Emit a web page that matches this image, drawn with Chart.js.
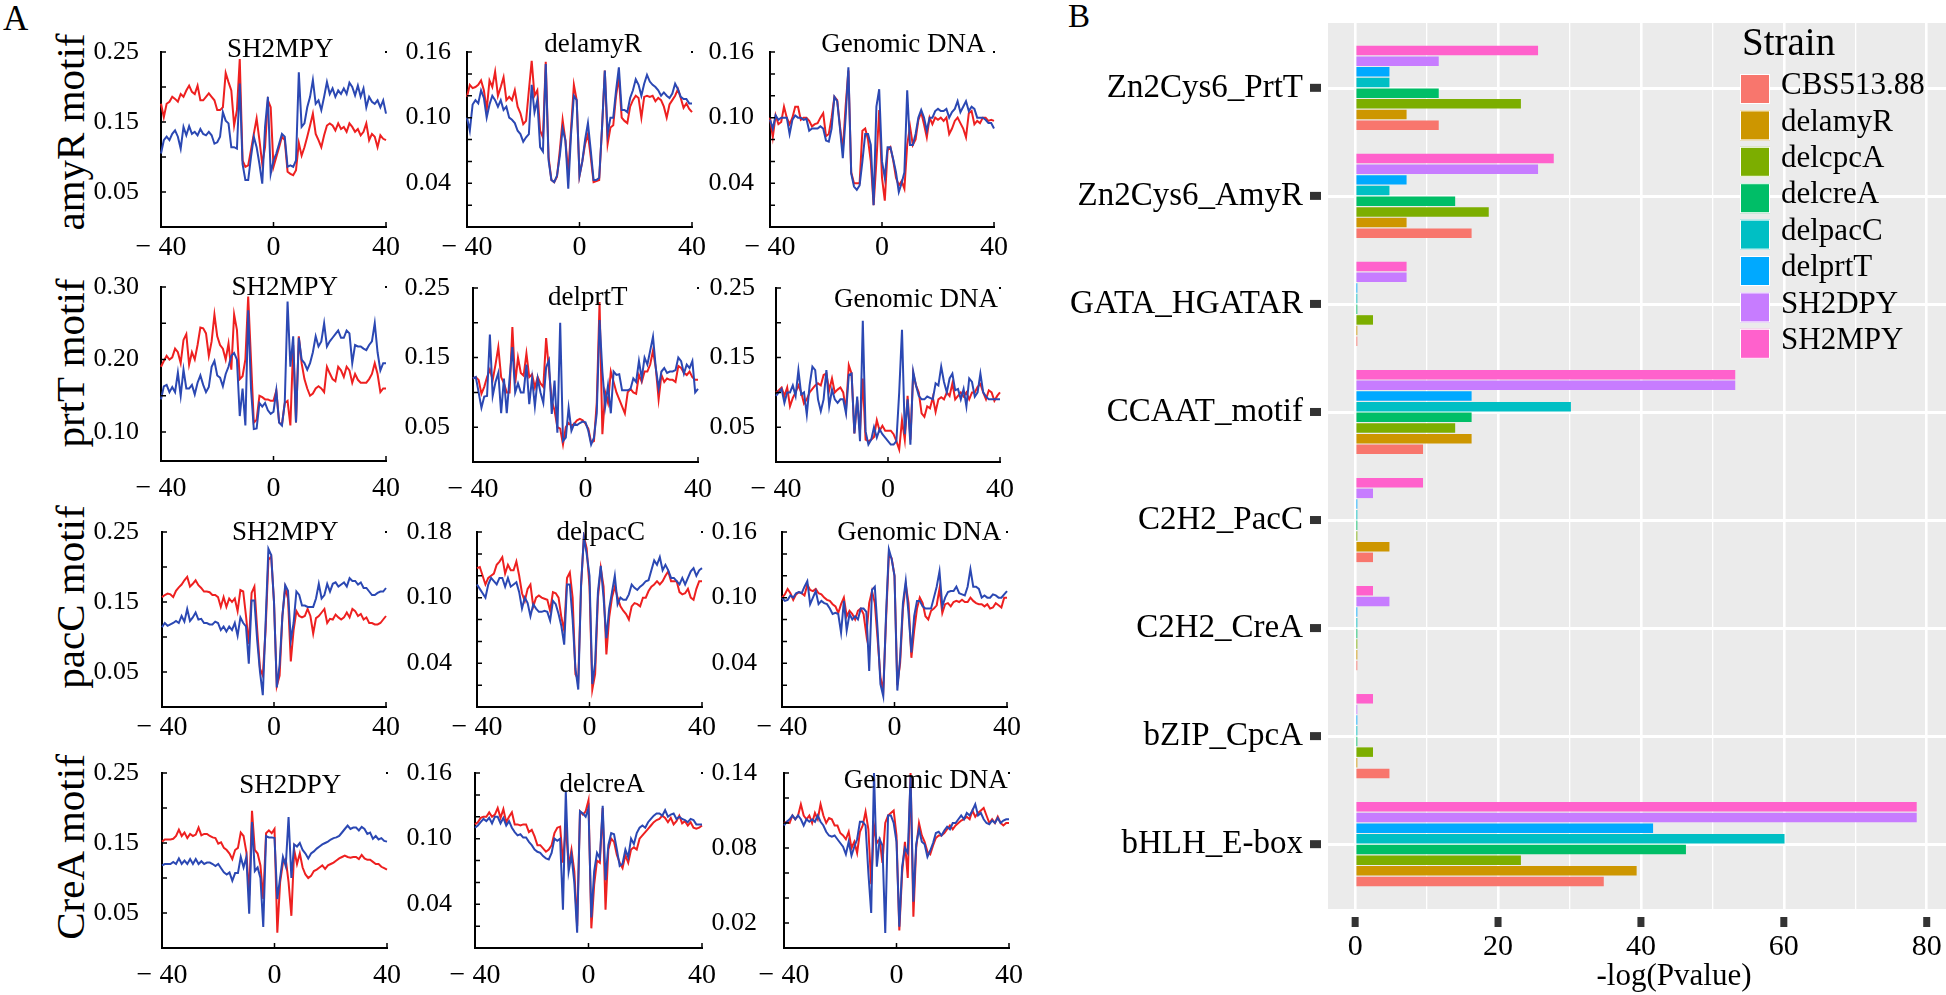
<!DOCTYPE html>
<html>
<head>
<meta charset="utf-8">
<script src="https://cdn.jsdelivr.net/npm/chart.js@4.4.0/dist/chart.umd.min.js"></script>
<style>
body { margin: 0; background: #fff; }
#page { position: relative; width: 1946px; height: 995px; overflow: hidden; font-family: 'Liberation Serif', 'Times New Roman', serif; color: #000; }
#page canvas { position: absolute; }
.lbl { position: absolute; line-height: 1; white-space: nowrap; }
.rowlab { font-size: 41px; transform: translate(-50%, -50%) rotate(-90deg); }
</style>
</head>
<body>
<div id="page">
  <div class="lbl" style="left:3px;top:1px;font-size:35px">A</div>
  <div class="lbl" style="left:1068px;top:0px;font-size:33px">B</div>
</div>
<script>
const SERIF = "'Liberation Serif', 'Times New Roman', serif";
const RED = '#ee2020';
const BLUE = '#2b48b3';

// ---------- panel A data ----------
const positions = [-40,-39,-38,-37,-36,-35,-34,-33,-32,-31,-30,-29,-28,-27,-26,-25,-24,-23,-22,-21,-20,-19,-18,-17,-16,-15,-14,-13,-12,-11,-10,-9,-8,-7,-6,-5,-4,-3,-2,-1,0,1,2,3,4,5,6,7,8,9,10,11,12,13,14,15,16,17,18,19,20,21,22,23,24,25,26,27,28,29,30,31,32,33,34,35,36,37,38,39,40];
const xTickAt = [-40, 0, 40];
const xTickText = ['\u2212 40', '0', '40'];

const rowLabels = ['amyR motif', 'prtT motif', 'pacC motif', 'CreA motif'];
const panelTitles = [
  ['SH2MPY', 'delamyR', 'Genomic DNA'],
  ['SH2MPY', 'delprtT', 'Genomic DNA'],
  ['SH2MPY', 'delpacC', 'Genomic DNA'],
  ['SH2DPY', 'delcreA', 'Genomic DNA']
];
const yRanges = [
  [[0, 0.25], [0, 0.16], [0, 0.16]],
  [[0.06, 0.30], [0, 0.25], [0, 0.25]],
  [[0, 0.25], [0, 0.16], [0, 0.16]],
  [[0, 0.25], [0, 0.16], [0, 0.14]]
];
const marks25 = [0.05, 0.10, 0.15, 0.20, 0.25];
const marks16 = [0.02, 0.04, 0.06, 0.08, 0.10, 0.12, 0.14, 0.16];
const marks30 = [0.10, 0.15, 0.20, 0.25, 0.30];
const marks14 = [0.02, 0.04, 0.06, 0.08, 0.10, 0.12, 0.14];
const yMarks = [
  [marks25, marks16, marks16],
  [marks30, marks25, marks25],
  [marks25, marks16, marks16],
  [marks25, marks16, marks14]
];
const yLabelAt = [
  [[0.05, 0.15, 0.25], [0.04, 0.10, 0.16], [0.04, 0.10, 0.16]],
  [[0.10, 0.20, 0.30], [0.05, 0.15, 0.25], [0.05, 0.15, 0.25]],
  [[0.05, 0.15, 0.25], [0.04, 0.10, 0.16], [0.04, 0.10, 0.16]],
  [[0.05, 0.15, 0.25], [0.04, 0.10, 0.16], [0.02, 0.08, 0.14]]
];
const yLabelText = [
  [['0.05', '0.15', '0.25'], ['0.04', '0.10', '0.16'], ['0.04', '0.10', '0.16']],
  [['0.10', '0.20', '0.30'], ['0.05', '0.15', '0.25'], ['0.05', '0.15', '0.25']],
  [['0.05', '0.15', '0.25'], ['0.04', '0.10', '0.18'], ['0.04', '0.10', '0.16']],
  [['0.05', '0.15', '0.25'], ['0.04', '0.10', '0.16'], ['0.02', '0.08', '0.14']]
];

const amyR_SH2MPY_red = [0.176,0.157,0.176,0.179,0.186,0.183,0.179,0.19,0.186,0.195,
  0.202,0.193,0.19,0.202,0.181,0.181,0.186,0.191,0.186,0.181,
  0.167,0.167,0.171,0.22,0.207,0.195,0.145,0.167,0.24,0.095,
  0.086,0.088,0.11,0.133,0.155,0.124,0.09,0.114,0.181,0.171,
  0.086,0.1,0.114,0.129,0.124,0.079,0.076,0.074,0.081,0.12,
  0.102,0.114,0.129,0.145,0.162,0.133,0.124,0.114,0.131,0.145,
  0.148,0.145,0.138,0.148,0.14,0.143,0.136,0.148,0.143,0.136,
  0.14,0.131,0.136,0.148,0.124,0.133,0.129,0.114,0.131,0.126,0.124];
const amyR_SH2MPY_blue = [0.105,0.124,0.129,0.124,0.133,0.138,0.129,0.112,0.143,0.131,
  0.144,0.133,0.136,0.131,0.14,0.133,0.131,0.136,0.131,0.119,
  0.121,0.129,0.164,0.152,0.148,0.114,0.114,0.112,0.205,0.09,
  0.067,0.067,0.1,0.129,0.114,0.09,0.062,0.143,0.186,0.076,
  0.095,0.105,0.119,0.133,0.129,0.086,0.088,0.086,0.095,0.221,
  0.143,0.148,0.171,0.186,0.21,0.176,0.181,0.167,0.186,0.207,
  0.19,0.198,0.186,0.195,0.19,0.198,0.19,0.206,0.2,0.188,
  0.202,0.186,0.198,0.171,0.186,0.179,0.176,0.181,0.171,0.181,0.162];
const amyR_delamyR_red = [0.119,0.13,0.127,0.128,0.13,0.134,0.125,0.107,0.134,0.128,
  0.142,0.12,0.128,0.137,0.116,0.119,0.116,0.125,0.11,0.104,
  0.094,0.097,0.125,0.152,0.12,0.125,0.088,0.082,0.151,0.064,
  0.043,0.041,0.046,0.07,0.098,0.079,0.049,0.09,0.13,0.116,
  0.047,0.06,0.076,0.085,0.064,0.041,0.042,0.043,0.09,0.143,
  0.076,0.091,0.093,0.12,0.137,0.1,0.097,0.095,0.11,0.116,
  0.12,0.118,0.1,0.119,0.12,0.119,0.12,0.115,0.118,0.116,
  0.11,0.1,0.112,0.116,0.12,0.126,0.118,0.109,0.113,0.108,0.105];
const amyR_delamyR_blue = [0.1,0.088,0.112,0.116,0.113,0.125,0.118,0.1,0.112,0.12,
  0.116,0.11,0.116,0.107,0.11,0.1,0.098,0.095,0.088,0.085,
  0.078,0.082,0.085,0.13,0.105,0.116,0.073,0.069,0.149,0.061,
  0.043,0.041,0.047,0.065,0.09,0.079,0.035,0.085,0.12,0.116,
  0.047,0.06,0.08,0.095,0.07,0.043,0.043,0.045,0.09,0.143,
  0.085,0.1,0.1,0.125,0.146,0.107,0.107,0.105,0.118,0.125,
  0.135,0.13,0.12,0.131,0.139,0.133,0.13,0.128,0.125,0.12,
  0.123,0.12,0.118,0.122,0.131,0.126,0.119,0.117,0.117,0.113,0.113];
const amyR_genomic_red = [0.1,0.082,0.102,0.094,0.096,0.11,0.1,0.094,0.1,0.11,
  0.11,0.098,0.1,0.1,0.097,0.092,0.094,0.095,0.1,0.104,
  0.083,0.085,0.1,0.119,0.116,0.092,0.07,0.11,0.143,0.05,
  0.04,0.04,0.04,0.088,0.09,0.08,0.06,0.02,0.06,0.107,
  0.045,0.024,0.07,0.073,0.061,0.045,0.038,0.042,0.035,0.075,
  0.092,0.075,0.08,0.098,0.105,0.094,0.082,0.1,0.094,0.1,
  0.098,0.1,0.097,0.1,0.085,0.09,0.097,0.1,0.095,0.09,
  0.082,0.104,0.106,0.094,0.097,0.095,0.1,0.1,0.097,0.098,0.097];
const amyR_genomic_blue = [0.098,0.09,0.102,0.098,0.1,0.1,0.1,0.085,0.098,0.102,
  0.1,0.1,0.098,0.099,0.088,0.09,0.09,0.09,0.092,0.09,
  0.079,0.078,0.09,0.119,0.115,0.09,0.063,0.1,0.146,0.049,
  0.037,0.034,0.038,0.06,0.085,0.085,0.075,0.02,0.11,0.126,
  0.06,0.045,0.073,0.073,0.062,0.05,0.032,0.04,0.05,0.125,
  0.075,0.075,0.085,0.1,0.107,0.1,0.088,0.1,0.1,0.106,
  0.108,0.106,0.106,0.108,0.1,0.105,0.108,0.115,0.105,0.11,
  0.115,0.106,0.11,0.108,0.1,0.1,0.1,0.098,0.095,0.095,0.09];

const prtT_SH2MPY_red = [0.19,0.198,0.205,0.2,0.203,0.215,0.21,0.195,0.227,0.235,
  0.193,0.21,0.2,0.22,0.244,0.243,0.236,0.205,0.225,0.262,
  0.232,0.22,0.215,0.2,0.222,0.186,0.262,0.241,0.173,0.177,
  0.2,0.287,0.2,0.113,0.117,0.15,0.148,0.145,0.145,0.143,
  0.143,0.157,0.113,0.11,0.14,0.143,0.109,0.22,0.113,0.232,
  0.195,0.173,0.16,0.15,0.153,0.16,0.163,0.16,0.155,0.19,
  0.181,0.173,0.17,0.19,0.185,0.176,0.19,0.185,0.168,0.18,
  0.172,0.168,0.168,0.168,0.173,0.18,0.195,0.18,0.155,0.16,0.16];
const prtT_SH2MPY_blue = [0.145,0.163,0.165,0.155,0.162,0.155,0.182,0.15,0.186,0.16,
  0.16,0.165,0.152,0.168,0.178,0.165,0.155,0.162,0.19,0.198,
  0.178,0.175,0.163,0.18,0.19,0.205,0.209,0.2,0.122,0.16,
  0.109,0.268,0.16,0.104,0.105,0.14,0.135,0.14,0.13,0.125,
  0.128,0.157,0.113,0.109,0.14,0.28,0.19,0.232,0.113,0.23,
  0.2,0.195,0.186,0.195,0.21,0.232,0.218,0.225,0.25,0.218,
  0.225,0.23,0.235,0.24,0.23,0.23,0.24,0.236,0.195,0.22,
  0.218,0.218,0.215,0.213,0.22,0.225,0.25,0.21,0.185,0.195,0.195];
const prtT_delprtT_red = [0.12,0.122,0.118,0.098,0.108,0.122,0.133,0.118,0.14,0.165,
  0.122,0.113,0.1,0.1,0.194,0.113,0.15,0.128,0.124,0.156,
  0.122,0.126,0.107,0.122,0.113,0.108,0.178,0.132,0.088,0.074,
  0.05,0.048,0.025,0.05,0.056,0.052,0.055,0.06,0.062,0.06,
  0.055,0.048,0.028,0.03,0.085,0.23,0.04,0.1,0.085,0.13,
  0.115,0.1,0.09,0.08,0.07,0.1,0.105,0.1,0.098,0.125,
  0.115,0.13,0.13,0.14,0.16,0.135,0.09,0.125,0.115,0.12,
  0.118,0.118,0.115,0.138,0.135,0.128,0.125,0.13,0.122,0.118,0.118];
const prtT_delprtT_blue = [0.12,0.122,0.1,0.078,0.094,0.095,0.183,0.095,0.115,0.128,
  0.07,0.12,0.07,0.12,0.165,0.1,0.113,0.1,0.1,0.14,
  0.083,0.12,0.08,0.12,0.1,0.085,0.136,0.146,0.069,0.117,
  0.042,0.2,0.03,0.035,0.078,0.045,0.055,0.053,0.056,0.058,
  0.057,0.045,0.025,0.035,0.07,0.204,0.13,0.08,0.11,0.07,
  0.13,0.125,0.126,0.103,0.103,0.103,0.105,0.12,0.115,0.145,
  0.12,0.15,0.14,0.16,0.18,0.135,0.106,0.13,0.135,0.128,
  0.13,0.13,0.132,0.15,0.145,0.127,0.14,0.135,0.145,0.1,0.105];
const prtT_genomic_red = [0.1,0.103,0.107,0.095,0.107,0.08,0.092,0.1,0.11,0.1,
  0.084,0.09,0.1,0.105,0.11,0.113,0.11,0.125,0.127,0.103,
  0.12,0.1,0.104,0.107,0.1,0.075,0.139,0.127,0.041,0.089,
  0.044,0.12,0.032,0.03,0.032,0.036,0.06,0.045,0.052,0.045,
  0.045,0.045,0.04,0.03,0.018,0.06,0.032,0.095,0.032,0.127,
  0.11,0.1,0.07,0.065,0.08,0.077,0.093,0.072,0.09,0.093,
  0.09,0.1,0.095,0.113,0.09,0.095,0.1,0.094,0.1,0.09,
  0.1,0.1,0.108,0.112,0.1,0.09,0.103,0.1,0.088,0.095,0.1];
const prtT_genomic_blue = [0.095,0.1,0.105,0.085,0.1,0.1,0.11,0.095,0.132,0.097,
  0.1,0.068,0.11,0.137,0.132,0.09,0.073,0.09,0.132,0.08,
  0.104,0.09,0.085,0.09,0.09,0.07,0.125,0.127,0.041,0.094,
  0.03,0.203,0.044,0.025,0.032,0.05,0.035,0.047,0.04,0.035,
  0.03,0.025,0.025,0.03,0.1,0.19,0.04,0.09,0.025,0.13,
  0.11,0.095,0.09,0.09,0.094,0.092,0.09,0.113,0.11,0.137,
  0.115,0.1,0.12,0.127,0.103,0.105,0.09,0.105,0.08,0.12,
  0.115,0.094,0.1,0.127,0.1,0.094,0.09,0.09,0.09,0.09,0.09];

const pacC_SH2MPY_red = [0.157,0.16,0.162,0.161,0.157,0.166,0.171,0.175,0.181,0.186,
  0.172,0.176,0.181,0.174,0.17,0.165,0.165,0.164,0.16,0.16,
  0.157,0.143,0.157,0.143,0.155,0.15,0.155,0.137,0.167,0.165,
  0.13,0.09,0.163,0.172,0.11,0.055,0.045,0.11,0.21,0.215,
  0.15,0.03,0.045,0.13,0.17,0.155,0.065,0.11,0.137,0.13,
  0.128,0.13,0.14,0.13,0.105,0.127,0.13,0.135,0.14,0.12,
  0.126,0.125,0.132,0.128,0.125,0.128,0.135,0.128,0.14,0.137,
  0.13,0.133,0.125,0.128,0.12,0.12,0.118,0.118,0.12,0.125,0.13];
const pacC_SH2MPY_blue = [0.114,0.12,0.116,0.118,0.12,0.123,0.12,0.13,0.122,0.14,
  0.123,0.128,0.135,0.125,0.126,0.12,0.12,0.118,0.118,0.122,
  0.12,0.11,0.115,0.108,0.115,0.11,0.12,0.102,0.128,0.12,
  0.115,0.062,0.152,0.152,0.095,0.05,0.017,0.12,0.226,0.217,
  0.15,0.028,0.06,0.13,0.174,0.166,0.095,0.12,0.165,0.16,
  0.145,0.145,0.143,0.143,0.143,0.155,0.176,0.155,0.16,0.176,
  0.165,0.176,0.178,0.172,0.175,0.178,0.172,0.184,0.18,0.18,
  0.175,0.178,0.17,0.17,0.165,0.16,0.16,0.163,0.165,0.165,0.17];
const pacC_delpacC_red = [0.127,0.128,0.12,0.112,0.118,0.12,0.122,0.13,0.133,0.137,
  0.122,0.13,0.125,0.125,0.133,0.12,0.104,0.097,0.108,0.112,
  0.092,0.1,0.102,0.1,0.099,0.098,0.088,0.105,0.104,0.1,
  0.082,0.07,0.118,0.123,0.1,0.03,0.025,0.11,0.156,0.145,
  0.11,0.016,0.03,0.1,0.127,0.11,0.048,0.082,0.1,0.11,
  0.1,0.092,0.088,0.085,0.08,0.092,0.095,0.094,0.092,0.1,
  0.1,0.106,0.11,0.112,0.115,0.112,0.115,0.12,0.124,0.115,
  0.115,0.115,0.105,0.103,0.104,0.108,0.1,0.098,0.108,0.115,0.115];
const pacC_delpacC_blue = [0.112,0.108,0.104,0.1,0.112,0.118,0.115,0.112,0.118,0.118,
  0.11,0.118,0.11,0.112,0.114,0.105,0.09,0.1,0.095,0.083,
  0.094,0.09,0.087,0.087,0.088,0.087,0.079,0.097,0.094,0.085,
  0.074,0.057,0.112,0.112,0.08,0.035,0.016,0.112,0.155,0.14,
  0.12,0.021,0.04,0.105,0.129,0.1,0.063,0.09,0.105,0.12,
  0.094,0.1,0.098,0.098,0.103,0.112,0.109,0.107,0.11,0.112,
  0.115,0.116,0.125,0.134,0.13,0.137,0.125,0.13,0.125,0.118,
  0.118,0.115,0.112,0.118,0.112,0.118,0.124,0.127,0.12,0.125,0.127];
const pacC_genomic_red = [0.1,0.103,0.108,0.104,0.098,0.103,0.105,0.104,0.102,0.112,
  0.107,0.106,0.108,0.104,0.103,0.1,0.098,0.097,0.094,0.092,
  0.086,0.094,0.1,0.083,0.088,0.085,0.08,0.088,0.09,0.085,
  0.066,0.095,0.106,0.095,0.062,0.027,0.015,0.08,0.14,0.136,
  0.12,0.02,0.04,0.09,0.112,0.095,0.045,0.07,0.09,0.1,
  0.095,0.083,0.08,0.088,0.09,0.093,0.108,0.086,0.094,0.095,
  0.092,0.096,0.097,0.096,0.098,0.096,0.096,0.1,0.097,0.095,
  0.094,0.094,0.092,0.094,0.09,0.091,0.095,0.093,0.091,0.1,0.1];
const pacC_genomic_blue = [0.1,0.097,0.098,0.102,0.1,0.104,0.105,0.104,0.11,0.115,
  0.094,0.1,0.106,0.094,0.097,0.095,0.094,0.09,0.085,0.086,
  0.085,0.068,0.097,0.07,0.085,0.08,0.083,0.08,0.09,0.09,
  0.087,0.033,0.107,0.11,0.07,0.021,0.01,0.085,0.144,0.135,
  0.12,0.015,0.045,0.095,0.115,0.085,0.05,0.083,0.097,0.097,
  0.092,0.09,0.09,0.09,0.1,0.11,0.124,0.092,0.1,0.105,
  0.106,0.106,0.11,0.104,0.103,0.102,0.11,0.126,0.11,0.11,
  0.108,0.1,0.102,0.1,0.1,0.103,0.102,0.1,0.1,0.103,0.106];

const creA_SH2DPY_red = [0.152,0.155,0.155,0.155,0.156,0.16,0.169,0.16,0.165,0.157,
  0.163,0.16,0.162,0.172,0.161,0.163,0.163,0.16,0.158,0.157,
  0.149,0.151,0.143,0.14,0.135,0.127,0.14,0.143,0.165,0.16,
  0.137,0.075,0.196,0.14,0.135,0.118,0.07,0.164,0.168,0.164,
  0.17,0.022,0.094,0.122,0.127,0.094,0.046,0.14,0.12,0.135,
  0.115,0.105,0.1,0.103,0.11,0.112,0.115,0.118,0.113,0.118,
  0.12,0.122,0.125,0.128,0.13,0.132,0.13,0.129,0.13,0.13,
  0.127,0.133,0.128,0.126,0.126,0.123,0.12,0.12,0.116,0.114,0.112];
const creA_SH2DPY_blue = [0.118,0.12,0.12,0.12,0.123,0.12,0.128,0.12,0.125,0.12,
  0.127,0.12,0.127,0.12,0.124,0.12,0.122,0.122,0.12,0.117,
  0.12,0.114,0.108,0.105,0.108,0.096,0.107,0.107,0.13,0.115,
  0.13,0.049,0.18,0.11,0.115,0.1,0.03,0.16,0.158,0.158,
  0.157,0.07,0.1,0.13,0.117,0.187,0.1,0.148,0.145,0.15,
  0.14,0.135,0.128,0.135,0.138,0.142,0.145,0.148,0.15,0.152,
  0.155,0.157,0.158,0.16,0.165,0.17,0.175,0.17,0.172,0.172,
  0.168,0.173,0.17,0.163,0.165,0.156,0.16,0.155,0.157,0.153,0.152];
const creA_delcreA_red = [0.113,0.115,0.119,0.12,0.12,0.124,0.12,0.122,0.128,0.119,
  0.127,0.115,0.12,0.124,0.113,0.113,0.112,0.113,0.113,0.106,
  0.108,0.102,0.094,0.094,0.091,0.088,0.09,0.094,0.105,0.11,
  0.111,0.078,0.112,0.075,0.09,0.07,0.02,0.125,0.122,0.125,
  0.135,0.018,0.058,0.08,0.078,0.128,0.035,0.09,0.1,0.097,
  0.085,0.078,0.073,0.085,0.078,0.09,0.092,0.09,0.1,0.103,
  0.106,0.109,0.112,0.115,0.117,0.118,0.121,0.119,0.115,0.119,
  0.113,0.116,0.121,0.114,0.116,0.112,0.115,0.11,0.109,0.11,0.112];
const creA_delcreA_blue = [0.11,0.112,0.115,0.118,0.116,0.119,0.114,0.12,0.12,0.114,
  0.119,0.112,0.116,0.11,0.106,0.103,0.104,0.101,0.101,0.097,
  0.094,0.09,0.088,0.087,0.084,0.082,0.081,0.087,0.1,0.098,
  0.1,0.035,0.143,0.07,0.085,0.06,0.014,0.125,0.123,0.12,
  0.128,0.028,0.07,0.087,0.082,0.13,0.062,0.094,0.105,0.104,
  0.09,0.075,0.077,0.09,0.083,0.1,0.095,0.105,0.11,0.112,
  0.11,0.115,0.118,0.121,0.123,0.123,0.121,0.126,0.12,0.122,
  0.123,0.118,0.12,0.118,0.117,0.115,0.118,0.117,0.113,0.113,0.113];
const creA_genomic_red = [0.1,0.101,0.1,0.106,0.103,0.106,0.115,0.106,0.103,0.106,
  0.1,0.108,0.103,0.115,0.106,0.1,0.104,0.103,0.098,0.098,
  0.092,0.09,0.087,0.093,0.08,0.085,0.076,0.093,0.098,0.109,
  0.095,0.051,0.098,0.084,0.087,0.068,0.1,0.106,0.108,0.11,
  0.09,0.014,0.06,0.085,0.056,0.14,0.025,0.08,0.1,0.09,
  0.085,0.077,0.075,0.082,0.088,0.09,0.09,0.092,0.095,0.098,
  0.095,0.098,0.1,0.102,0.103,0.105,0.103,0.11,0.105,0.108,
  0.11,0.112,0.106,0.1,0.103,0.1,0.105,0.1,0.098,0.1,0.1];
const creA_genomic_blue = [0.098,0.101,0.103,0.106,0.103,0.106,0.103,0.098,0.103,0.101,
  0.103,0.101,0.106,0.101,0.098,0.093,0.09,0.089,0.09,0.087,
  0.084,0.081,0.075,0.085,0.074,0.081,0.087,0.101,0.101,0.098,
  0.06,0.028,0.14,0.065,0.087,0.082,0.012,0.106,0.106,0.1,
  0.085,0.017,0.065,0.08,0.076,0.137,0.037,0.083,0.095,0.085,
  0.083,0.073,0.078,0.084,0.092,0.093,0.09,0.094,0.097,0.095,
  0.1,0.1,0.103,0.106,0.103,0.108,0.106,0.11,0.115,0.106,
  0.108,0.103,0.1,0.099,0.102,0.1,0.104,0.1,0.102,0.103,0.103];

const panelSeries = [
  [[amyR_SH2MPY_red, amyR_SH2MPY_blue], [amyR_delamyR_red, amyR_delamyR_blue], [amyR_genomic_red, amyR_genomic_blue]],
  [[prtT_SH2MPY_red, prtT_SH2MPY_blue], [prtT_delprtT_red, prtT_delprtT_blue], [prtT_genomic_red, prtT_genomic_blue]],
  [[pacC_SH2MPY_red, pacC_SH2MPY_blue], [pacC_delpacC_red, pacC_delpacC_blue], [pacC_genomic_red, pacC_genomic_blue]],
  [[creA_SH2DPY_red, creA_SH2DPY_blue], [creA_delcreA_red, creA_delcreA_blue], [creA_genomic_red, creA_genomic_blue]]
];

// ---------- panel B data ----------
const motifs = ['bHLH_E-box', 'bZIP_CpcA', 'C2H2_CreA', 'C2H2_PacC', 'CCAAT_motif', 'GATA_HGATAR', 'Zn2Cys6_AmyR', 'Zn2Cys6_PrtT'];
const strains = ['CBS513.88', 'delamyR', 'delcpcA', 'delcreA', 'delpacC', 'delprtT', 'SH2DPY', 'SH2MPY'];
const strainColors = ['#F8766D', '#CD9600', '#7CAE00', '#00BE67', '#00BFC4', '#00A9FF', '#C77CFF', '#FF61CC'];
const logP_CBS513 = [34.8, 4.8, 0.3, 2.5, 9.5, 0.3, 16.3, 11.7];
const logP_delamyR = [39.4, 0.3, 0.3, 4.8, 16.3, 0.3, 7.2, 7.2];
const logP_delcpcA = [23.2, 2.5, 0.3, 0.3, 14.0, 2.5, 18.7, 23.2];
const logP_delcreA = [46.3, 0.3, 0.3, 0.3, 16.3, 0.3, 14.0, 11.7];
const logP_delpacC = [60.1, 0.3, 0.3, 0.3, 30.2, 0.3, 4.8, 4.8];
const logP_delprtT = [41.7, 0.3, 0.3, 0.3, 16.3, 0.3, 7.2, 4.8];
const logP_SH2DPY = [78.6, 0.3, 4.8, 2.5, 53.2, 7.2, 25.6, 11.7];
const logP_SH2MPY = [78.6, 2.5, 2.5, 9.5, 53.2, 7.2, 27.8, 25.6];
const strainValues = [logP_CBS513, logP_delamyR, logP_delcpcA, logP_delcreA, logP_delpacC, logP_delprtT, logP_SH2DPY, logP_SH2MPY];
const xTicksB = [0, 20, 40, 60, 80];

// ---------- layout ----------
const boxes = [
  [[161, 386, 52, 227], [467, 692, 52, 227], [770, 994, 52, 227]],
  [[161, 386, 287, 461], [473, 698, 288, 462], [776, 1000, 288, 462]],
  [[162, 386, 532, 707], [477, 702, 532, 707], [782, 1007, 532, 707]],
  [[162, 387, 773, 948], [475, 702, 773, 948], [784, 1009, 773, 948]]
];
const titleFrac = [[0.53, 0.56, 0.595], [0.55, 0.51, 0.625], [0.55, 0.55, 0.61], [0.57, 0.56, 0.63]];
const titleDy = [[5, 0, 0], [8, 17, 19], [8, 8, 8], [20, 19, 15]];
const xPad = [-1, 6, -1, 6];
const yPad = [[14, 8, 8], [14, 15, 13], [15, 17, 17], [15, 15, 19]];
const rowLabelY = [132, 363, 597, 847];

const page = document.getElementById('page');

function noAutoPad(s) {
  s.paddingTop = 0; s.paddingBottom = 0; s.paddingLeft = 0; s.paddingRight = 0;
}

const panelDecor = {
  id: 'panelDecor',
  afterDraw(chart, args, o) {
    const { ctx, chartArea: a, scales: { x, y } } = chart;
    ctx.save();
    ctx.strokeStyle = '#000';
    ctx.lineWidth = 1.5;
    ctx.beginPath();
    o.marks.forEach(v => {
      const py = y.getPixelForValue(v);
      ctx.moveTo(a.left, py);
      ctx.lineTo(a.left + 5, py);
    });
    xTickAt.forEach(v => {
      const px = x.getPixelForValue(positions.indexOf(v));
      ctx.moveTo(px, a.bottom);
      ctx.lineTo(px, a.bottom - 5);
    });
    ctx.stroke();
    ctx.fillStyle = '#000';
    ctx.fillRect(a.right - 1, a.top - 1, 2, 2);
    ctx.font = '27px ' + SERIF;
    ctx.textAlign = 'center';
    ctx.textBaseline = 'alphabetic';
    ctx.fillText(o.title, a.left + o.frac * (a.right - a.left), a.top + o.dy);
    ctx.restore();
  }
};

function makePanel(r, c) {
  const [L, R, T, B] = boxes[r][c];
  const padL = 90, padT = 40, padR = 25, padB = 40;
  const cv = document.createElement('canvas');
  cv.width = R - L + padL + padR;
  cv.height = B - T + padT + padB;
  cv.style.left = (L - padL) + 'px';
  cv.style.top = (T - padT) + 'px';
  page.appendChild(cv);
  const [red, blue] = panelSeries[r][c];
  const labAt = yLabelAt[r][c], labText = yLabelText[r][c];
  new Chart(cv, {
    type: 'line',
    data: {
      labels: positions,
      datasets: [
        { data: blue, borderColor: BLUE, borderWidth: 2, pointRadius: 0, tension: 0, order: 0 },
        { data: red, borderColor: RED, borderWidth: 2, pointRadius: 0, tension: 0, order: 1 }
      ]
    },
    options: {
      responsive: false,
      animation: false,
      devicePixelRatio: 1,
      layout: { padding: { top: padT, right: padR, left: 0, bottom: 0 } },
      scales: {
        x: {
          type: 'category',
          grid: { display: false },
          border: { display: true, color: '#000', width: 2 },
          afterFit: s => { s.height = padB; noAutoPad(s); },
          ticks: {
            autoSkip: false, maxRotation: 0, minRotation: 0,
            padding: xPad[r], color: '#000',
            font: { family: SERIF, size: 28, lineHeight: 1 },
            callback: (v, i) => {
              const k = xTickAt.indexOf(positions[i]);
              return k >= 0 ? xTickText[k] : '';
            }
          }
        },
        y: {
          min: yRanges[r][c][0], max: yRanges[r][c][1],
          grid: { display: false },
          border: { display: true, color: '#000', width: 2 },
          afterFit: s => { s.width = padL; noAutoPad(s); },
          afterBuildTicks: s => { s.ticks = yMarks[r][c].map(v => ({ value: v })); },
          ticks: {
            autoSkip: false,
            padding: yPad[r][c], color: '#000',
            font: { family: SERIF, size: 26 },
            callback: v => {
              const k = labAt.findIndex(w => Math.abs(w - v) < 1e-6);
              return k >= 0 ? labText[k] : '';
            }
          }
        }
      },
      plugins: {
        legend: { display: false },
        tooltip: { enabled: false },
        panelDecor: { title: panelTitles[r][c], frac: titleFrac[r][c], dy: titleDy[r][c], marks: yMarks[r][c] }
      }
    },
    plugins: [panelDecor]
  });
}

for (let r = 0; r < 4; r++) {
  const lab = document.createElement('div');
  lab.className = 'lbl rowlab';
  lab.textContent = rowLabels[r];
  lab.style.left = '70px';
  lab.style.top = rowLabelY[r] + 'px';
  page.appendChild(lab);
  for (let c = 0; c < 3; c++) makePanel(r, c);
}

// ---------- panel B ----------
const B_LEFT = 1040;

// gray ggplot panel and the white major lines through each motif
const panelBack = {
  id: 'panelBack',
  beforeDraw(chart) {
    const { ctx, chartArea: a } = chart;
    ctx.save();
    ctx.fillStyle = '#EBEBEB';
    ctx.fillRect(a.left, a.top, a.right - a.left, a.bottom - a.top);
    ctx.restore();
  },
  beforeDatasetsDraw(chart) {
    const { ctx, chartArea: a, scales: { y } } = chart;
    ctx.save();
    ctx.strokeStyle = '#fff';
    ctx.lineWidth = 3;
    ctx.beginPath();
    motifs.forEach((m, i) => {
      const py = Math.round(y.getPixelForValue(i)) + 0.5;
      ctx.moveTo(a.left, py);
      ctx.lineTo(a.right, py);
    });
    ctx.stroke();
    ctx.restore();
  }
};

const panelBDecor = {
  id: 'panelBDecor',
  afterDraw(chart) {
    const { ctx, chartArea: a, scales: { x, y } } = chart;
    ctx.save();
    ctx.fillStyle = '#333';
    motifs.forEach((m, i) => {
      const py = y.getPixelForValue(i);
      ctx.fillRect(a.left - 18, py - 4, 11, 8);
    });
    xTicksB.forEach(v => {
      const px = x.getPixelForValue(v);
      ctx.fillRect(px - 3.5, a.bottom + 8, 7, 10);
    });
    ctx.fillStyle = '#000';
    ctx.font = '31px ' + SERIF;
    ctx.textAlign = 'center';
    ctx.textBaseline = 'middle';
    ctx.fillText('-log(Pvalue)', 1674 - B_LEFT, 977);

    // legend
    ctx.textAlign = 'left';
    ctx.textBaseline = 'alphabetic';
    ctx.font = '39px ' + SERIF;
    ctx.fillText('Strain', 1742 - B_LEFT, 55);
    ctx.font = '31px ' + SERIF;
    ctx.textBaseline = 'middle';
    strains.forEach((s, i) => {
      const ty = 74 + i * 36.4;
      ctx.fillStyle = strainColors[i];
      ctx.fillRect(1740 - B_LEFT, ty, 30, 30);
      ctx.strokeStyle = '#fff';
      ctx.lineWidth = 1;
      ctx.strokeRect(1740 - B_LEFT + 0.5, ty + 0.5, 29, 29);
      ctx.fillStyle = '#000';
      ctx.fillText(s, 1781 - B_LEFT, ty + 12);
    });
    ctx.restore();
  }
};

const cvB = document.createElement('canvas');
cvB.width = 1946 - B_LEFT;
cvB.height = 995;
cvB.style.left = B_LEFT + 'px';
cvB.style.top = '0px';
page.appendChild(cvB);

new Chart(cvB, {
  type: 'bar',
  data: {
    datasets: strains.map((s, i) => ({
      label: s,
      data: strainValues[i].map((v, k) => ({ x: v, y: k })),
      backgroundColor: strainColors[i],
      borderWidth: 0
    })).reverse()
  },
  options: {
    indexAxis: 'y',
    responsive: false,
    animation: false,
    devicePixelRatio: 1,
    layout: { padding: { top: 23, right: 0, left: 0, bottom: 0 } },
    datasets: { bar: { categoryPercentage: 0.79, barPercentage: 0.89 } },
    scales: {
      x: {
        type: 'linear', min: -3.8, max: 82.7, offset: false,
        afterFit: s => { s.height = 86; noAutoPad(s); },
        ticks: {
          stepSize: 10, includeBounds: false, color: '#000', padding: 23,
          font: { family: SERIF, size: 30, lineHeight: 1 },
          callback: v => xTicksB.includes(v) ? String(v) : ''
        },
        grid: { color: '#fff', lineWidth: c => (c.tick && xTicksB.includes(c.tick.value)) ? 2.6 : 1.3, drawTicks: false, offset: false },
        border: { display: false }
      },
      y: {
        type: 'linear', min: -0.6, max: 7.6, offset: false,
        afterFit: s => { s.width = 288; noAutoPad(s); },
        afterBuildTicks: s => { s.ticks = motifs.map((m, i) => ({ value: i })); },
        ticks: {
          color: '#000', padding: 17, autoSkip: false,
          font: { family: SERIF, size: 33 },
          callback: v => motifs[v]
        },
        grid: { display: false },
        border: { display: false }
      }
    },
    plugins: { legend: { display: false }, tooltip: { enabled: false } }
  },
  plugins: [panelBack, panelBDecor]
});
</script>
</body>
</html>
